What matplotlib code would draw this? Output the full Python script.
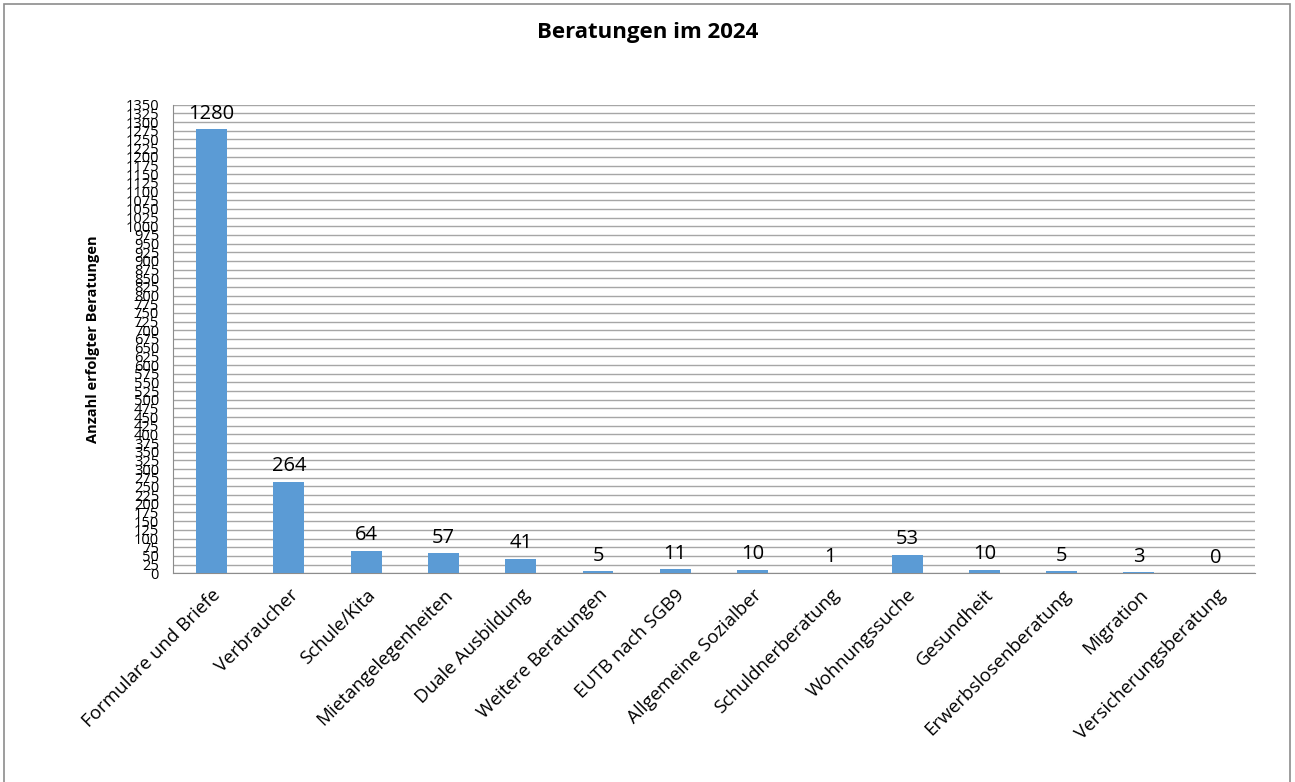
import matplotlib.pyplot as plt
import matplotlib.ticker as ticker
from matplotlib.patches import Rectangle

categories = ['Formulare und Briefe', 'Verbraucher', 'Schule/Kita', 'Mietangelegenheiten',
              'Duale Ausbildung', 'Weitere Beratungen', 'EUTB nach SGB9', 'Allgemeine Sozialber',
              'Schuldnerberatung', 'Wohnungssuche', 'Gesundheit', 'Erwerbslosenberatung',
              'Migration', 'Versicherungsberatung']
values = [1280, 264, 64, 57, 41, 5, 11, 10, 1, 53, 10, 5, 3, 0]

plt.rcParams['font.family'] = ['Open Sans', 'DejaVu Sans']

fig = plt.figure(figsize=(12.95, 7.82), dpi=100)
ax = fig.add_axes([0.1336, 0.267, 0.969 - 0.1336, 0.866 - 0.267])

x = range(len(categories))
bars = ax.bar(x, values, width=0.4, color='#5b9bd5', zorder=3)

ax.set_xlim(-0.5, len(categories) - 0.5)
ax.set_ylim(0, 1350)
ax.yaxis.set_major_locator(ticker.MultipleLocator(25))
ax.grid(axis='y', color='#a6a6a6', linewidth=1, zorder=0)
ax.tick_params(axis='y', length=0, labelsize=10.5, pad=10)
ax.tick_params(axis='x', length=0, labelsize=13.5, pad=9)

ax.set_xticks(list(x))
ax.set_xticklabels(categories, rotation=45, ha='right', rotation_mode='anchor')

for s in ['top', 'right']:
    ax.spines[s].set_visible(False)
for s in ['left', 'bottom']:
    ax.spines[s].set_color('#8c8c8c')

# value labels above the bars
for b, v in zip(bars, values):
    ax.annotate(str(v), (b.get_x() + b.get_width() / 2, v), xytext=(0, 4),
                textcoords='offset points', ha='center', va='bottom', fontsize=14.5)

ax.set_ylabel('Anzahl erfolgter Beratungen', fontsize=10.5, fontweight='bold', labelpad=18)
fig.text(0.5, 0.958, 'Beratungen im 2024', ha='center', va='center', fontsize=16, fontweight='bold')

# outer chart border
fig.patches.append(Rectangle((0.003, -0.01), 0.993, 1.005, transform=fig.transFigure,
                             fill=False, edgecolor='#8c8c8c', linewidth=1.2))

plt.savefig('out.png', dpi=100)
